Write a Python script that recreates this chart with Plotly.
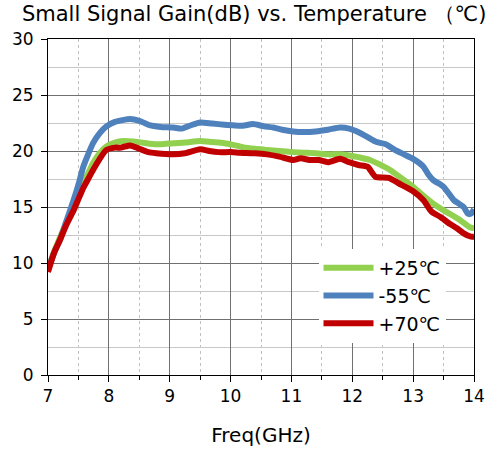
import plotly.graph_objects as go

freq_25 = [7.0, 7.1, 7.2, 7.3, 7.42, 7.5, 7.58, 7.66, 7.74, 7.85, 7.96, 8.1, 8.24, 8.4, 8.55, 8.67, 8.85, 9.06, 9.25, 9.5, 9.7, 9.9, 10.04, 10.2, 10.4, 10.6, 10.8, 11.03, 11.2, 11.4, 11.6, 11.8, 11.96, 12.1, 12.29, 12.45, 12.62, 12.8, 13.0, 13.17, 13.33, 13.47, 13.6, 13.75, 13.85, 13.93, 14.0]
gain_25 = [9.5, 11.0, 12.3, 13.6, 15.0, 16.0, 17.1, 18.0, 18.9, 19.8, 20.4, 20.75, 20.9, 20.85, 20.75, 20.65, 20.6, 20.7, 20.75, 20.9, 20.8, 20.7, 20.55, 20.35, 20.2, 20.1, 20.0, 19.9, 19.85, 19.8, 19.7, 19.7, 19.6, 19.45, 19.2, 18.8, 18.3, 17.6, 16.8, 16.0, 15.3, 14.8, 14.4, 13.9, 13.5, 13.2, 13.1]

freq_m55 = [7.0, 7.1, 7.2, 7.3, 7.42, 7.5, 7.58, 7.66, 7.74, 7.85, 7.96, 8.1, 8.35, 8.5, 8.67, 8.85, 9.06, 9.2, 9.35, 9.5, 9.7, 9.9, 10.04, 10.2, 10.37, 10.55, 10.7, 10.85, 11.03, 11.2, 11.4, 11.6, 11.8, 11.95, 12.05, 12.2, 12.4, 12.55, 12.7, 12.85, 13.0, 13.17, 13.25, 13.33, 13.45, 13.5, 13.6, 13.67, 13.75, 13.83, 13.9, 13.95, 14.0]
gain_m55 = [9.4, 10.9, 12.1, 13.7, 15.6, 17.0, 18.6, 19.7, 20.7, 21.6, 22.2, 22.6, 22.85, 22.7, 22.3, 22.15, 22.1, 22.0, 22.3, 22.55, 22.45, 22.35, 22.3, 22.25, 22.4, 22.2, 22.1, 21.9, 21.75, 21.7, 21.75, 21.9, 22.1, 22.0, 21.8, 21.4, 20.8, 20.6, 20.1, 19.7, 19.3, 18.6, 17.9, 17.4, 17.0, 16.8, 16.1, 15.6, 15.3, 15.0, 14.4, 14.4, 14.8]

freq_70 = [7.0, 7.1, 7.2, 7.3, 7.42, 7.5, 7.58, 7.66, 7.74, 7.85, 7.96, 8.1, 8.2, 8.35, 8.5, 8.65, 8.78, 9.06, 9.25, 9.5, 9.65, 9.8, 10.0, 10.15, 10.4, 10.6, 10.8, 11.03, 11.15, 11.3, 11.45, 11.6, 11.8, 11.95, 12.1, 12.25, 12.38, 12.6, 12.8, 13.0, 13.17, 13.3, 13.45, 13.6, 13.72, 13.83, 13.95, 14.0]
gain_70 = [9.2, 10.9, 12.1, 13.4, 14.7, 15.7, 16.7, 17.5, 18.3, 19.3, 20.1, 20.3, 20.3, 20.5, 20.2, 19.9, 19.8, 19.7, 19.8, 20.15, 20.0, 19.9, 19.9, 19.85, 19.8, 19.7, 19.5, 19.2, 19.35, 19.2, 19.2, 19.0, 19.3, 19.0, 18.75, 18.6, 17.7, 17.6, 17.0, 16.4, 15.6, 14.6, 14.1, 13.5, 13.1, 12.65, 12.35, 12.35]

series_names = ["+25\u2103", "-55\u2103", "+70\u2103"]
colors = ["#92D050", "#4F81BD", "#C00000"]

x_ticks = [7, 8, 9, 10, 11, 12, 13, 14]
y_ticks = [0, 5, 10, 15, 20, 25, 30]

fig = go.Figure()
for name, fx, gy, col in zip(series_names, [freq_25, freq_m55, freq_70], [gain_25, gain_m55, gain_70], colors):
    fig.add_trace(go.Scatter(x=fx, y=gy, mode="lines", name=name,
                             line=dict(color=col, width=6, shape="spline", smoothing=0.6)))

fig.update_layout(
    width=487, height=450,
    margin=dict(l=48, r=13, t=39, b=75, autoexpand=False),
    paper_bgcolor="white", plot_bgcolor="white",
    font=dict(family="DejaVu Sans", color="black", size=17),
    title=dict(text="Small Signal Gain(dB) vs. Temperature \uff08\u2103)", x=0.045, xanchor="left",
               y=0.985, yanchor="top", font=dict(family="DejaVu Sans", size=21)),
    legend=dict(x=0.635, y=0.375, xanchor="left", yanchor="top", bgcolor="white",
                font=dict(family="DejaVu Sans", size=19), itemwidth=50, tracegroupgap=0),
    xaxis=dict(range=[7, 14], tickvals=x_ticks, showline=True, mirror=True, linecolor="black", linewidth=1,
               showgrid=True, gridcolor="#707070", gridwidth=1, ticks="outside", ticklen=6, tickcolor="black",
               minor=dict(dtick=0.5, showgrid=True, gridcolor="#c0c0c0", griddash="dot", ticks="outside", ticklen=4, tickcolor="black"),
               title=dict(text="Freq(GHz)", standoff=22), zeroline=False, tickfont=dict(size=17), automargin=False),
    yaxis=dict(range=[0, 30], tickvals=y_ticks, showline=True, mirror=True, linecolor="black", linewidth=1,
               showgrid=True, gridcolor="#707070", gridwidth=1, ticks="outside", ticklen=6, tickcolor="black",
               ticklabelstandoff=4,
               minor=dict(dtick=2.5, showgrid=True, gridcolor="#c8c8c8"), zeroline=False, tickfont=dict(size=17),
               automargin=False),
)

fig.write_html("out.html")
